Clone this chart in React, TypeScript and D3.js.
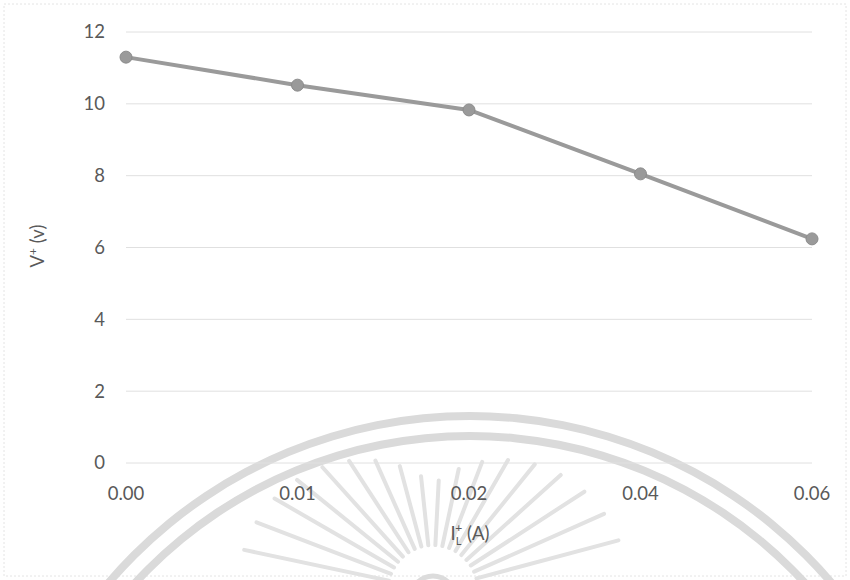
import React from "react";
import * as d3 from "d3";

const categories = ["0.00", "0.01", "0.02", "0.04", "0.06"];
const voltages = [11.3, 10.52, 9.83, 8.05, 6.24];
const yTicks = [0, 2, 4, 6, 8, 10, 12];

const W = 850;
const H = 580;
const plot = { left: 126, right: 812, top: 32, bottom: 463 };

export default function App() {
  const x = d3
    .scalePoint<string>()
    .domain(categories)
    .range([plot.left, plot.right]);
  const y = d3.scaleLinear().domain([0, 12]).range([plot.bottom, plot.top]);
  const line = d3
    .line<number>()
    .x((_, i) => x(categories[i]) as number)
    .y((d) => y(d));
  const font = "Lato, 'Open Sans', sans-serif";
  const textColor = "#595959";
  const fs = 18.5;

  // watermark (decorative seal)
  const cx = 470;
  const cy = 891;
  const arc1 = d3.arc()({ innerRadius: 471, outerRadius: 479, startAngle: -Math.PI / 2, endAngle: Math.PI / 2 }) as string;
  const arc2 = d3.arc()({ innerRadius: 451, outerRadius: 459, startAngle: -Math.PI / 2, endAngle: Math.PI / 2 }) as string;
  const sun = { x: 433, y: 590 };
  const rays = d3.range(-168, -11, 9).map((deg) => {
    const a = (deg * Math.PI) / 180;
    const r0 = 45;
    const r1 = 105 + 90 * Math.abs(Math.cos(a));
    return {
      x1: sun.x + r0 * Math.cos(a),
      y1: sun.y + r0 * Math.sin(a),
      x2: sun.x + r1 * Math.cos(a),
      y2: sun.y + r1 * Math.sin(a),
    };
  });

  return (
    <svg
      width={W}
      height={H}
      style={{ position: "absolute", left: 0, top: 0, background: "#fff" }}
      fontFamily={font}
    >
      <rect x={4} y={4} width={W - 8} height={H - 8} fill="#fff" stroke="#e4e4e4" strokeDasharray="2,2" />
      <g transform={`translate(${cx},${cy})`} fill="#dadada">
        <path d={arc1} />
        <path d={arc2} />
      </g>
      <g stroke="#e2e2e2" strokeWidth={4} strokeLinecap="round">
        {rays.map((r, i) => (
          <line key={i} x1={r.x1} y1={r.y1} x2={r.x2} y2={r.y2} />
        ))}
      </g>
      <circle cx={sun.x} cy={sun.y + 8} r={22} fill="none" stroke="#dcdcdc" strokeWidth={5} />
      {yTicks.map((t) => (
        <g key={t}>
          <line
            x1={plot.left}
            x2={plot.right}
            y1={y(t)}
            y2={y(t)}
            stroke="#e0e0e0"
            strokeWidth={1}
          />
          <text
            x={105}
            y={y(t)}
            dy="0.35em"
            textAnchor="end"
            fontSize={fs}
            fill={textColor}
          >
            {t}
          </text>
        </g>
      ))}
      {categories.map((c) => (
        <text
          key={c}
          x={x(c)}
          y={500}
          textAnchor="middle"
          fontSize={fs}
          fill={textColor}
        >
          {c}
        </text>
      ))}
      <path
        d={line(voltages) as string}
        fill="none"
        stroke="#9a9a9a"
        strokeWidth={4}
        strokeLinejoin="round"
      />
      {voltages.map((v, i) => (
        <circle
          key={i}
          cx={x(categories[i])}
          cy={y(v)}
          r={6}
          fill="#9a9a9a"
          stroke="#8c8c8c"
          strokeWidth={1}
        />
      ))}
      <text
        transform={`translate(44,246) rotate(-90)`}
        textAnchor="middle"
        fontSize={fs}
        fill={textColor}
      >
        V<tspan fontSize={12} dy={-7}>+</tspan>
        <tspan dy={7}> (v)</tspan>
      </text>
      <text x={470} y={540} textAnchor="middle" fontSize={fs} fill={textColor}>
        I<tspan fontSize={11} dy={5}>L</tspan>
        <tspan fontSize={12} dy={-13} dx={-6}>+</tspan>
        <tspan dy={8}> (A)</tspan>
      </text>
    </svg>
  );
}
